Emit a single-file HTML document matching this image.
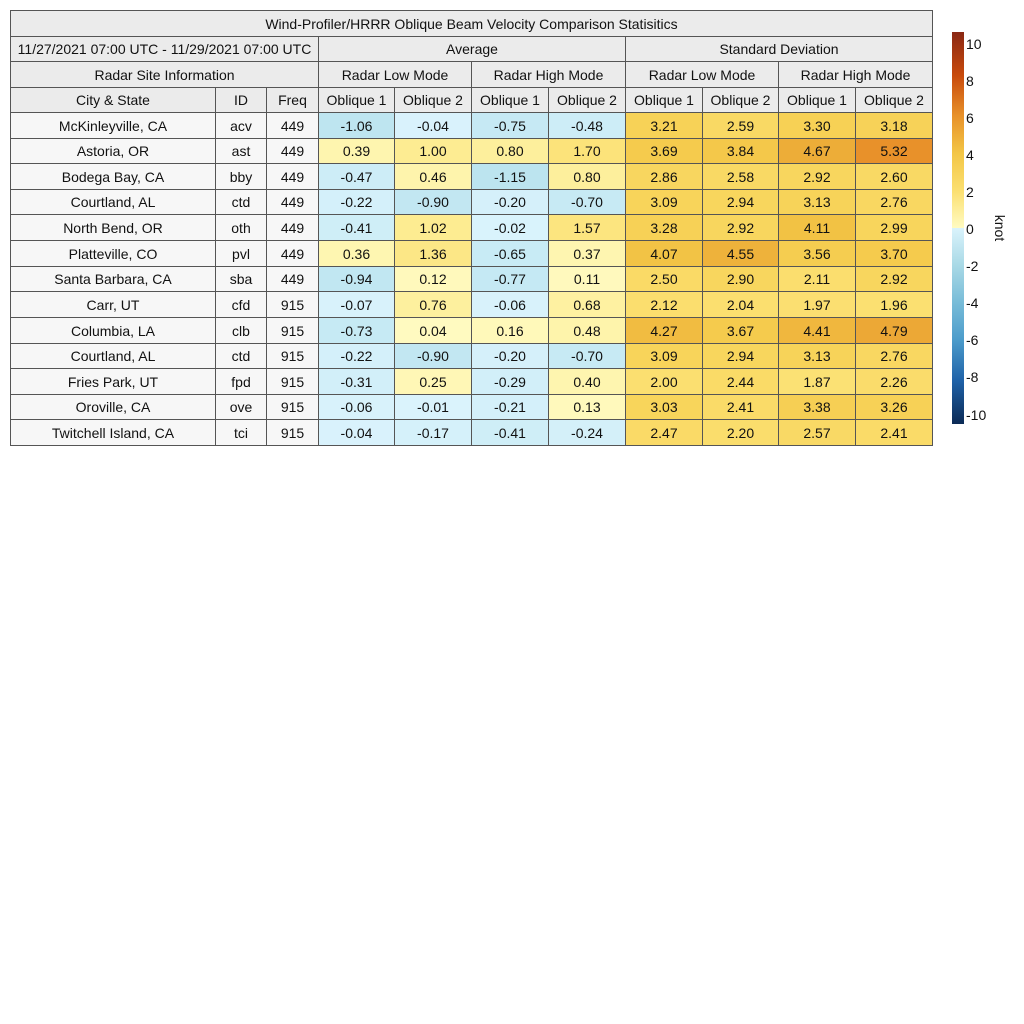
<!DOCTYPE html>
<html><head><meta charset="utf-8"><style>
body{margin:0;width:1024px;height:1024px;background:#fff;position:relative;font-family:"Liberation Sans",sans-serif;overflow:hidden}
.c{position:absolute;box-sizing:border-box;border:1px solid #555;display:flex;align-items:center;justify-content:center;font-size:14px;color:#111;white-space:nowrap}
.t{position:absolute;font-size:14px;color:#111}
</style></head><body>
<div id="root"></div>
<div style="position:absolute;left:952px;top:32px;width:12px;height:196px;background:linear-gradient(to top,#fffbc2 0%,#fbdf70 19%,#f3c646 38%,#e8922a 57%,#c84a0c 78%,#8a2814 100%)"></div>
<div style="position:absolute;left:952px;top:228px;width:12px;height:196px;background:linear-gradient(to bottom,#daf3fc 0%,#a9d9e6 19%,#78bcd8 38%,#4c9ccb 57%,#1f62a8 78%,#0b2a55 100%)"></div>
<div class="t" style="left:1000px;top:228px;transform:translate(-50%,-50%) rotate(90deg)">knot</div>
<script>
const R=document.getElementById('root');
function cell(x,y,w,h,txt,bg){const d=document.createElement('div');d.className='c';d.style.cssText=`left:${x}px;top:${y}px;width:${w+1}px;height:${h+1}px;background:${bg||'#ebebeb'}`;d.textContent=txt;R.appendChild(d);}
const X=[10,215,266,318,394,471,548,625,702,778,855,932];
cell(10,10,922,26,'Wind-Profiler/HRRR Oblique Beam Velocity Comparison Statisitics');
cell(10,36,308,25,'11/27/2021 07:00 UTC - 11/29/2021 07:00 UTC');
cell(318,36,307,25,'Average');cell(625,36,307,25,'Standard Deviation');
cell(10,61,308,26,'Radar Site Information');
['Radar Low Mode','Radar High Mode','Radar Low Mode','Radar High Mode'].forEach((s,i)=>cell(X[3+2*i],61,X[5+2*i]-X[3+2*i],26,s));
const H=['City & State','ID','Freq','Oblique 1','Oblique 2','Oblique 1','Oblique 2','Oblique 1','Oblique 2','Oblique 1','Oblique 2'];
H.forEach((s,i)=>cell(X[i],87,X[i+1]-X[i],25,s));
const D=[
['McKinleyville, CA','acv',449,-1.06,-0.04,-0.75,-0.48,3.21,2.59,3.30,3.18],
['Astoria, OR','ast',449,0.39,1.00,0.80,1.70,3.69,3.84,4.67,5.32],
['Bodega Bay, CA','bby',449,-0.47,0.46,-1.15,0.80,2.86,2.58,2.92,2.60],
['Courtland, AL','ctd',449,-0.22,-0.90,-0.20,-0.70,3.09,2.94,3.13,2.76],
['North Bend, OR','oth',449,-0.41,1.02,-0.02,1.57,3.28,2.92,4.11,2.99],
['Platteville, CO','pvl',449,0.36,1.36,-0.65,0.37,4.07,4.55,3.56,3.70],
['Santa Barbara, CA','sba',449,-0.94,0.12,-0.77,0.11,2.50,2.90,2.11,2.92],
['Carr, UT','cfd',915,-0.07,0.76,-0.06,0.68,2.12,2.04,1.97,1.96],
['Columbia, LA','clb',915,-0.73,0.04,0.16,0.48,4.27,3.67,4.41,4.79],
['Courtland, AL','ctd',915,-0.22,-0.90,-0.20,-0.70,3.09,2.94,3.13,2.76],
['Fries Park, UT','fpd',915,-0.31,0.25,-0.29,0.40,2.00,2.44,1.87,2.26],
['Oroville, CA','ove',915,-0.06,-0.01,-0.21,0.13,3.03,2.41,3.38,3.26],
['Twitchell Island, CA','tci',915,-0.04,-0.17,-0.41,-0.24,2.47,2.20,2.57,2.41]];
const P=[[0,'#fffbc2'],[1,'#fdec92'],[2,'#fbdf70'],[3,'#f8d55c'],[4,'#f3c646'],[4.6,'#eeb03a'],[5.3,'#e8922a'],[6,'#e47a1e'],[8,'#c84a0c'],[10,'#8a2814']];
const N=[[0,'#daf3fc'],[1,'#bfe6f1'],[2,'#a9d9e6'],[4,'#78bcd8'],[6,'#4c9ccb'],[8,'#1f62a8'],[10,'#0b2a55']];
function hx(h){return [1,3,5].map(i=>parseInt(h.substr(i,2),16));}
function col(v){const s=v<0?N:P;const a=Math.abs(v);for(let i=0;i<s.length-1;i++){if(a<=s[i+1][0]){const t=(a-s[i][0])/(s[i+1][0]-s[i][0]);const c0=hx(s[i][1]),c1=hx(s[i+1][1]);return 'rgb('+c0.map((c,k)=>Math.round(c+(c1[k]-c)*t)).join(',')+')';}}return s[s.length-1][1];}
D.forEach((r,j)=>{const y0=Math.round(112+j*25.62),y1=Math.round(112+(j+1)*25.62);
r.forEach((v,i)=>{const bg=i<3?'#f7f7f7':col(v);cell(X[i],y0,X[i+1]-X[i],y1-y0,i<3?String(v):v.toFixed(2),bg);});});
[10,8,6,4,2,0,-2,-4,-6,-8,-10].forEach(v=>{const d=document.createElement('div');d.className='t';d.style.cssText=`left:966px;top:${228-v*18.55-7}px`;d.textContent=v;R.appendChild(d);});
</script>
</body></html>
